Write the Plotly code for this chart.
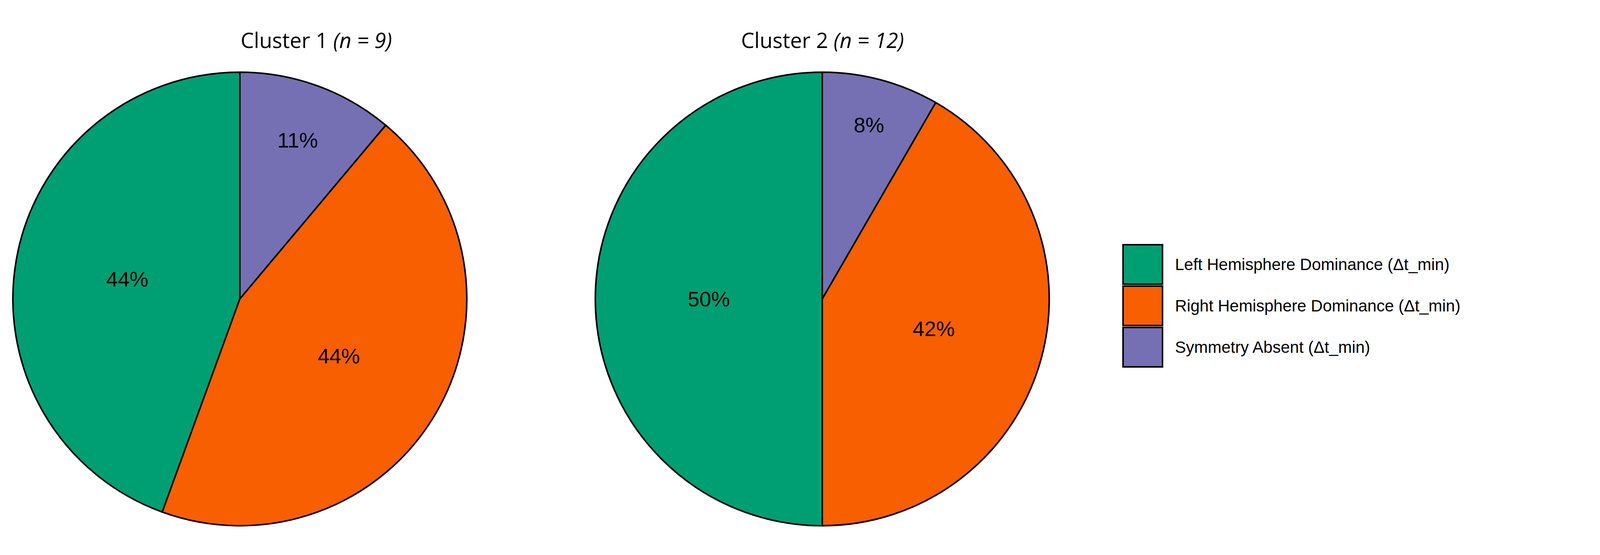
import plotly.graph_objects as go

labels = ["Left Hemisphere Dominance (Δt_min)", "Right Hemisphere Dominance (Δt_min)", "Symmetry Absent (Δt_min)"]
colors = ["#009E73", "#F85F00", "#7570B3"]
c1_counts = [4, 4, 1]
c1_text = ["44%", "44%", "11%"]
c2_counts = [6, 5, 1]
c2_text = ["50%", "42%", "8%"]
titles = ["Cluster 1 <i>(n = 9)</i>", "Cluster 2 <i>(n = 12)</i>"]

# slice drawing order so that, counterclockwise from 12 o'clock: Left, Right, Symmetry
order = [2, 0, 1]

W, H = 4142, 1422
fig = go.Figure()
for i, (vals, txt, x0) in enumerate([(c1_counts, c1_text, 606), (c2_counts, c2_text, 2097)]):
    r = 581
    fig.add_trace(go.Pie(
        labels=[labels[k] for k in order], values=[vals[k] for k in order],
        text=[txt[k] for k in order], texttemplate="%{text}",
        textposition="inside", insidetextorientation="horizontal",
        textfont=dict(size=54, color="black", family="Liberation Sans"),
        marker=dict(colors=[colors[k] for k in order], line=dict(color="black", width=4)),
        sort=False, direction="counterclockwise", rotation=0,
        domain=dict(x=[(x0 - r) / W, (x0 + r) / W], y=[0.058, 0.876]),
        showlegend=False,
    ))
    fig.add_annotation(text=titles[i], x=x0 / W, y=1 - 55 / H, xref="paper", yref="paper",
                       showarrow=False, font=dict(size=54, color="black", family="Open Sans"))

# custom legend
rows = [(619, 720), (725, 826), (831, 932)]
for k, (t, b) in enumerate(rows):
    fig.add_shape(type="rect", xref="paper", yref="paper",
                  x0=2867 / W, x1=2968 / W, y0=1 - b / H, y1=1 - t / H,
                  fillcolor=colors[k], line=dict(color="black", width=4))
    fig.add_annotation(text=labels[k], x=2998 / W, y=1 - (t + b) / 2 / H, xref="paper", yref="paper",
                       xanchor="left", yanchor="middle", showarrow=False,
                       font=dict(size=42, color="black", family="Liberation Sans"))

fig.update_layout(
    width=W, height=H, margin=dict(l=0, r=0, t=0, b=0),
    paper_bgcolor="white", plot_bgcolor="white", showlegend=False,
)
fig.write_html("out.html")
